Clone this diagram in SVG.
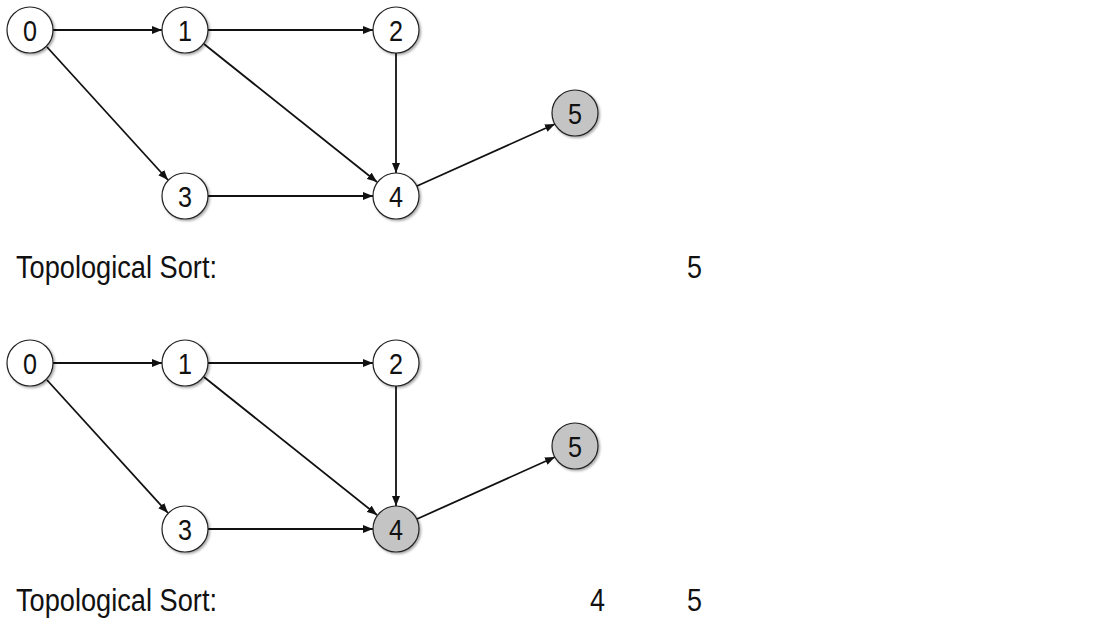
<svg xmlns="http://www.w3.org/2000/svg" width="1114" height="630" viewBox="0 0 1114 630">
<style>
.n circle{stroke:#222;stroke-width:1.2;filter:url(#sh)}
.w{fill:#fff}
.g{fill:#c4c4c4}
.n text{font-family:"Liberation Sans",Arial,sans-serif;font-size:30px;fill:#111;text-anchor:middle}
.e line{stroke:#111;stroke-width:1.8;marker-end:url(#ah)}
.lbl{font-family:"Liberation Sans",Arial,sans-serif;font-size:31px;fill:#111}
</style>
<defs>
<filter id="sh" x="-30%" y="-30%" width="160%" height="160%">
<feDropShadow dx="1.5" dy="1.5" stdDeviation="1.2" flood-color="#000" flood-opacity="0.35"/>
</filter>
<marker id="ah" viewBox="0 0 10 8" refX="10" refY="4" markerWidth="10" markerHeight="8" markerUnits="userSpaceOnUse" orient="auto">
<path d="M0,0 L10,4 L0,8 Z" fill="#111"/>
</marker>
</defs>
<rect width="1114" height="630" fill="#fff"/>
<g id="connectors">
<g class="e">
<line x1="53" y1="30" x2="162" y2="30"/>
<line x1="208" y1="30" x2="373" y2="30"/>
<line x1="47" y1="47" x2="168" y2="180"/>
<line x1="204" y1="44" x2="377" y2="182"/>
<line x1="396" y1="53" x2="396" y2="173"/>
<line x1="208" y1="196" x2="373" y2="196"/>
<line x1="417" y1="186" x2="555" y2="124"/>
</g>
<g class="e" transform="translate(0,333)">
<line x1="53" y1="30" x2="162" y2="30"/>
<line x1="208" y1="30" x2="373" y2="30"/>
<line x1="47" y1="47" x2="168" y2="180"/>
<line x1="204" y1="44" x2="377" y2="182"/>
<line x1="396" y1="53" x2="396" y2="173"/>
<line x1="208" y1="196" x2="373" y2="196"/>
<line x1="417" y1="186" x2="555" y2="124"/>
</g>
</g>
<g id="a0" class="n"><circle class="w" cx="30" cy="30" r="23"/><text x="30" y="41" textLength="14" lengthAdjust="spacingAndGlyphs">0</text></g>
<g id="a1" class="n"><circle class="w" cx="185" cy="30" r="23"/><text x="185" y="41" textLength="14" lengthAdjust="spacingAndGlyphs">1</text></g>
<g id="a2" class="n"><circle class="w" cx="396" cy="30" r="23"/><text x="396" y="41" textLength="14" lengthAdjust="spacingAndGlyphs">2</text></g>
<g id="a3" class="n"><circle class="w" cx="185" cy="196" r="23"/><text x="185" y="207" textLength="14" lengthAdjust="spacingAndGlyphs">3</text></g>
<g id="a4" class="n"><circle class="w" cx="396" cy="196" r="23"/><text x="396" y="207" textLength="14" lengthAdjust="spacingAndGlyphs">4</text></g>
<g id="a5" class="n"><circle class="g" cx="575" cy="113" r="23"/><text x="575" y="124" textLength="14" lengthAdjust="spacingAndGlyphs">5</text></g>
<text class="lbl" x="16" y="278" textLength="201" lengthAdjust="spacingAndGlyphs">Topological Sort:</text>
<text class="lbl" x="687" y="278" textLength="15" lengthAdjust="spacingAndGlyphs">5</text>
<g id="b0" class="n"><circle class="w" cx="30" cy="363" r="23"/><text x="30" y="374" textLength="14" lengthAdjust="spacingAndGlyphs">0</text></g>
<g id="b1" class="n"><circle class="w" cx="185" cy="363" r="23"/><text x="185" y="374" textLength="14" lengthAdjust="spacingAndGlyphs">1</text></g>
<g id="b2" class="n"><circle class="w" cx="396" cy="363" r="23"/><text x="396" y="374" textLength="14" lengthAdjust="spacingAndGlyphs">2</text></g>
<g id="b3" class="n"><circle class="w" cx="185" cy="529" r="23"/><text x="185" y="540" textLength="14" lengthAdjust="spacingAndGlyphs">3</text></g>
<g id="b4" class="n"><circle class="g" cx="396" cy="529" r="23"/><text x="396" y="540" textLength="14" lengthAdjust="spacingAndGlyphs">4</text></g>
<g id="b5" class="n"><circle class="g" cx="575" cy="446" r="23"/><text x="575" y="457" textLength="14" lengthAdjust="spacingAndGlyphs">5</text></g>
<text class="lbl" x="16" y="611" textLength="201" lengthAdjust="spacingAndGlyphs">Topological Sort:</text>
<text class="lbl" x="590" y="611" textLength="15" lengthAdjust="spacingAndGlyphs">4</text>
<text class="lbl" x="687" y="611" textLength="15" lengthAdjust="spacingAndGlyphs">5</text>
</svg>
